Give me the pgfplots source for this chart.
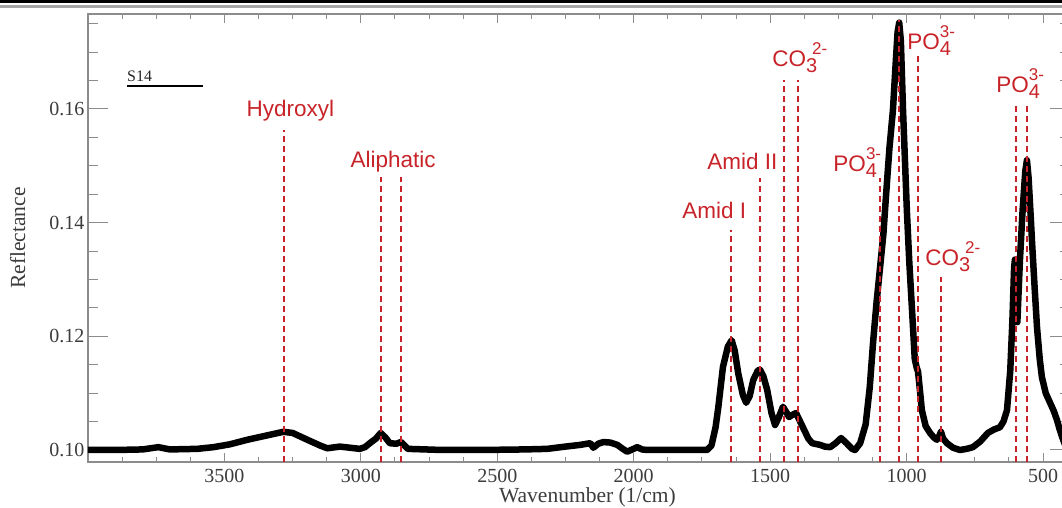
\documentclass[border=0pt]{standalone}
\usepackage{pgfplots}
\pgfplotsset{compat=1.18}
\usepackage{fontspec}
\setmainfont{Liberation Serif}
\newfontfamily\annfont{Liberation Sans}
\definecolor{annred}{RGB}{200,35,40}
\definecolor{axgray}{RGB}{140,140,140}
\definecolor{lblgray}{RGB}{60,60,60}
\newcommand{\ann}[1]{{\annfont\fontsize{22.5}{24}\selectfont #1}}
\newcommand{\sub}[1]{\raisebox{-6pt}{\fontsize{20}{20}\selectfont #1}}
\newcommand{\sups}[1]{\raisebox{12pt}{\fontsize{17}{17}\selectfont #1}}
\pgfplotstableread{
x y
4000 0.1000
3900 0.1000
3800 0.1001
3742 0.1005
3700 0.1001
3600 0.1002
3540 0.1005
3480 0.1010
3416 0.1018
3350 0.1025
3284 0.1032
3250 0.1030
3196 0.1018
3150 0.1008
3123 0.1003
3077 0.1006
3040 0.1004
3004 0.1002
2985 0.1005
2967 0.1012
2945 0.1020
2927 0.1030
2910 0.1022
2894 0.1012
2870 0.1011
2853 0.1014
2840 0.1008
2828 0.1002
2700 0.1000
2562 0.1000
2400 0.1001
2317 0.1002
2250 0.1006
2196 0.1009
2159 0.1012
2148 0.1004
2130 0.1011
2111 0.1014
2085 0.1013
2060 0.1009
2040 0.1002
2024 0.0997
2005 0.1001
1987 0.1005
1970 0.1001
1950 0.1000
1800 0.1000
1731 0.1000
1715 0.1008
1700 0.1040
1690 0.1075
1673 0.1146
1655 0.1182
1641 0.1193
1630 0.1175
1617 0.1135
1600 0.1097
1588 0.1083
1575 0.1095
1562 0.1123
1545 0.1140
1537 0.1141
1525 0.1130
1511 0.1106
1495 0.1065
1482 0.1044
1468 0.1058
1453 0.1076
1440 0.1066
1431 0.1058
1418 0.1062
1405 0.1065
1392 0.1052
1379 0.1039
1360 0.1020
1346 0.1012
1317 0.1009
1300 0.1006
1280 0.1005
1260 0.1012
1240 0.1021
1220 0.1012
1200 0.1002
1189 0.1000
1170 0.1012
1150 0.1045
1135 0.1110
1123 0.1188
1110 0.1260
1097 0.1322
1085 0.1380
1075 0.1450
1063 0.1530
1050 0.1598
1040 0.1680
1033 0.1735
1027 0.1752
1021 0.1720
1013 0.1598
999 0.1422
990 0.1330
980 0.1246
970 0.1160
963 0.1145
958 0.1138
950 0.1100
944 0.1070
930 0.1042
914 0.1030
900 0.1022
889 0.1018
880 0.1025
874 0.1032
866 0.1020
852 0.1012
830 0.1004
805 0.1000
780 0.1002
757 0.1005
730 0.1015
702 0.1030
680 0.1036
658 0.1040
645 0.1050
632 0.1070
620 0.1140
612 0.1230
606 0.1320
603 0.1335
600 0.1320
598 0.1229
594 0.1225
585 0.1330
575 0.1420
565 0.1490
559 0.1510
553 0.1480
545 0.1410
540 0.1364
530 0.1280
522 0.1216
512 0.1160
504 0.1128
490 0.1100
474 0.1083
460 0.1068
449 0.1053
440 0.1038
430 0.1023
420 0.1010
}\spectrum
\begin{document}
\begin{tikzpicture}
\begin{axis}[
  scale only axis, width=982.3pt, height=448pt,
  x dir=reverse, xmin=400, xmax=4000, ymin=0.097888, ymax=0.176716,
  xtick={500,1000,...,3500}, minor xtick={500,625,...,4000},
  ytick={0.10,0.12,0.14,0.16}, minor ytick={0.1,0.105,...,0.176},
  tick align=inside,
  axis line style={axgray, line width=1.2pt},
  every tick/.style={axgray, line width=1pt},
  major tick length=12pt, minor tick length=6pt,
  xtick style={/pgfplots/major tick length=9pt,/pgfplots/minor tick length=5pt},
  ytick style={/pgfplots/major tick length=20pt,/pgfplots/minor tick length=10pt},
  /pgf/number format/assume math mode=true,
  tick label style={font=\fontsize{20}{20}\selectfont, text=lblgray},
  xticklabel style={/pgf/number format/1000 sep={}, yshift=-4pt},
  yticklabel style={/pgf/number format/fixed, /pgf/number format/fixed zerofill, /pgf/number format/precision=2},
  xlabel={Wavenumber (1/cm)},
  ylabel={Reflectance},
  xlabel style={at={(axis description cs:0.5085,-0.0900)}, anchor=base, inner sep=0pt, font=\fontsize{21.5}{21.5}\selectfont, text=lblgray},
  ylabel style={at={(axis description cs:-0.0641,0.5)}, anchor=base, inner sep=0pt, rotate=0, font=\fontsize{21.5}{21.5}\selectfont, text=lblgray},
  vl/.style={annred, line width=2.1pt, dash pattern=on 6pt off 4pt, no markers},
]
\addplot[black, line width=6.5pt, line join=round, line cap=round, no markers] table[x=x,y=y] {\spectrum};
\addplot[vl] coordinates {(3280,0.097888) (3280,0.15631)};
\addplot[vl] coordinates {(2925,0.097888) (2925,0.14804)};
\addplot[vl] coordinates {(2852,0.097888) (2852,0.14804)};
\addplot[vl] coordinates {(1643,0.097888) (1643,0.13871)};
\addplot[vl] coordinates {(1537,0.097888) (1537,0.14786)};
\addplot[vl] coordinates {(1449,0.097888) (1449,0.16511)};
\addplot[vl] coordinates {(1397,0.097888) (1397,0.16511)};
\addplot[vl] coordinates {(1097,0.097888) (1097,0.14786)};
\addplot[vl] coordinates {(1027,0.097888) (1027,0.17566)};
\addplot[vl] coordinates {(958,0.097888) (958,0.16986)};
\addplot[vl] coordinates {(874,0.097888) (874,0.13044)};
\addplot[vl] coordinates {(599,0.097888) (599,0.16106)};
\addplot[vl] coordinates {(559,0.097888) (559,0.16106)};
\tikzset{lab/.style={anchor=base west, inner sep=0pt, text=annred}}
\node[lab] at (axis cs:3419,0.15860) {\ann{Hydroxyl}};
\node[lab] at (axis cs:3038,0.14962) {\ann{Aliphatic}};
\node[lab] at (axis cs:1822,0.14082) {\ann{Amid I}};
\node[lab] at (axis cs:1731,0.14927) {\ann{Amid II}};
\node[lab] at (axis cs:1493,0.16739) {\ann{CO\sub{3}\kern-5pt\sups{2-}}};
\node[lab] at (axis cs:1269,0.14892) {\ann{PO\sub{4}\kern-11pt\sups{3-}}};
\node[lab] at (axis cs:998,0.1705) {\ann{PO\sub{4}\kern-11pt\sups{3-}}};
\node[lab] at (axis cs:932,0.13255) {\ann{CO\sub{3}\kern-5pt\sups{2-}}};
\node[lab] at (axis cs:672,0.16282) {\ann{PO\sub{4}\kern-11pt\sups{3-}}};
\node[anchor=base west, inner sep=0pt, font=\fontsize{16}{16}\selectfont, text=black!85] at (axis description cs:0.0397,0.8482) {S14};
\draw[black, line width=2.5pt] (axis description cs:0.0397,0.8393) -- (axis description cs:0.1171,0.8393);
\end{axis}
\fill[black] ([xshift=-88pt,yshift=10.5pt]current axis.north west) rectangle ([yshift=14pt]current axis.north east);
\fill[gray!70] ([xshift=-88pt,yshift=6pt]current axis.north west) rectangle ([yshift=9pt]current axis.north east);
\pgfresetboundingbox
\path[use as bounding box] ([xshift=-88pt,yshift=-46pt]current axis.south west) rectangle ([xshift=-8.3pt,yshift=14pt]current axis.north east);
\end{tikzpicture}
\end{document}
